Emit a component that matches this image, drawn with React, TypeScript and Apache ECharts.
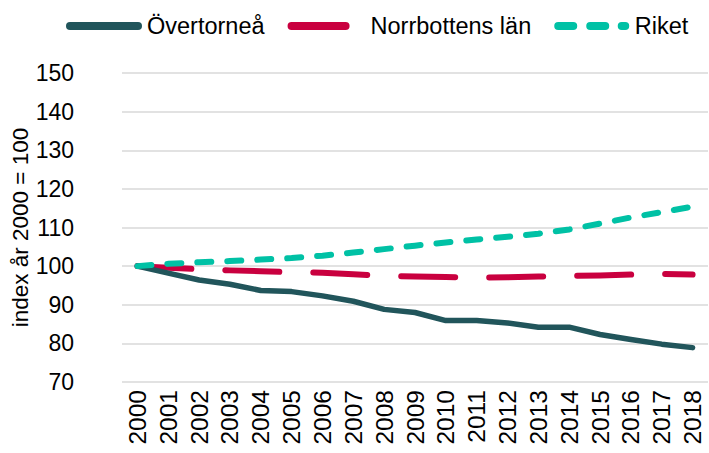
import React, { useEffect, useRef } from "react";
import * as echarts from "echarts";

const years = ["2000","2001","2002","2003","2004","2005","2006","2007","2008","2009","2010","2011","2012","2013","2014","2015","2016","2017","2018"];
const overtornea = [100, 98.2, 96.4, 95.3, 93.7, 93.4, 92.3, 90.9, 88.8, 88.0, 85.9, 85.9, 85.3, 84.2, 84.2, 82.3, 81.0, 79.8, 78.9];
const norrbotten = [100, 99.6, 99.2, 98.9, 98.7, 98.4, 98.3, 97.9, 97.5, 97.3, 97.2, 97.0, 97.1, 97.3, 97.5, 97.6, 97.8, 98.0, 97.8];
const riket = [100, 100.6, 101.0, 101.3, 101.7, 102.1, 102.7, 103.5, 104.4, 105.3, 106.1, 106.9, 107.6, 108.4, 109.5, 111.0, 112.6, 114.0, 115.4];
const seriesNames = ["Övertorneå", "Norrbottens län", "Riket"];
const axisName = "index år 2000 = 100";

const FONT = "'Liberation Sans', Arial, sans-serif";

const ICON_SOLID = "path://M4,0H72A4,4,0,0,1,72,8H4A4,4,0,0,1,4,0Z";
const ICON_LONG = "path://M4,0H58A4,4,0,0,1,58,8H4A4,4,0,0,1,4,0Z";
const ICON_DASH = "path://M4,0H19A4,4,0,0,1,19,8H4A4,4,0,0,1,4,0Z M36,0H51A4,4,0,0,1,51,8H36A4,4,0,0,1,36,0Z M67.5,0H71A4,4,0,0,1,71,8H67.5A4,4,0,0,1,67.5,0Z";

export default function App() {
  const ref = useRef<HTMLDivElement>(null);
  useEffect(() => {
    document.body.style.margin = "0";
    const chart = echarts.init(ref.current!, null, { renderer: "svg" });
    chart.setOption({
      animation: false,
      textStyle: { fontFamily: FONT },
      legend: {
        left: 61,
        top: 9,
        itemWidth: 76,
        itemHeight: 8,
        itemGap: 23,
        textStyle: { fontSize: 23.5, color: "#000", fontFamily: FONT },
        data: [
          { name: seriesNames[0], icon: ICON_SOLID },
          { name: seriesNames[1], icon: ICON_LONG, textStyle: { padding: [0, 5, 0, 9] } },
          { name: seriesNames[2], icon: ICON_DASH },
        ],
      },
      grid: { left: 122, right: 1, top: 73, bottom: 71, containLabel: false, outerBoundsMode: "none" },
      xAxis: {
        type: "category",
        data: years,
        boundaryGap: true,
        axisLine: { show: false },
        axisTick: { show: false },
        axisLabel: { rotate: 90, interval: 0, hideOverlap: false, fontSize: 24.5, color: "#000", margin: 8, fontFamily: FONT },
      },
      yAxis: {
        type: "value",
        min: 70,
        max: 150,
        interval: 10,
        name: axisName,
        nameLocation: "middle",
        nameGap: 90,
        nameMoveOverlap: false,
        nameTextStyle: { fontSize: 22.5, color: "#000", fontFamily: FONT },
        axisLine: { show: false },
        axisTick: { show: false },
        axisLabel: { fontSize: 23, color: "#000", margin: 48, fontFamily: FONT },
        splitLine: { lineStyle: { color: "#d9d9d9", width: 1.5 } },
      },
      series: [
        {
          name: seriesNames[0],
          type: "line",
          data: overtornea,
          symbol: "none",
          color: "#21555b",
          lineStyle: { width: 5.5, color: "#21555b", cap: "round", join: "round" },
          z: 3,
        },
        {
          name: seriesNames[1],
          type: "line",
          data: norrbotten,
          symbol: "none",
          color: "#c9003f",
          lineStyle: { width: 6, color: "#c9003f", type: [54, 34], cap: "round", join: "round" },
          z: 2,
        },
        {
          name: seriesNames[2],
          type: "line",
          data: riket,
          symbol: "none",
          color: "#00c1a5",
          lineStyle: { width: 6, color: "#00c1a5", type: [14, 16], cap: "round", join: "round" },
          z: 4,
        },
      ],
    });
    return () => chart.dispose();
  }, []);
  return <div ref={ref} style={{ width: 709, height: 453 }} />;
}
